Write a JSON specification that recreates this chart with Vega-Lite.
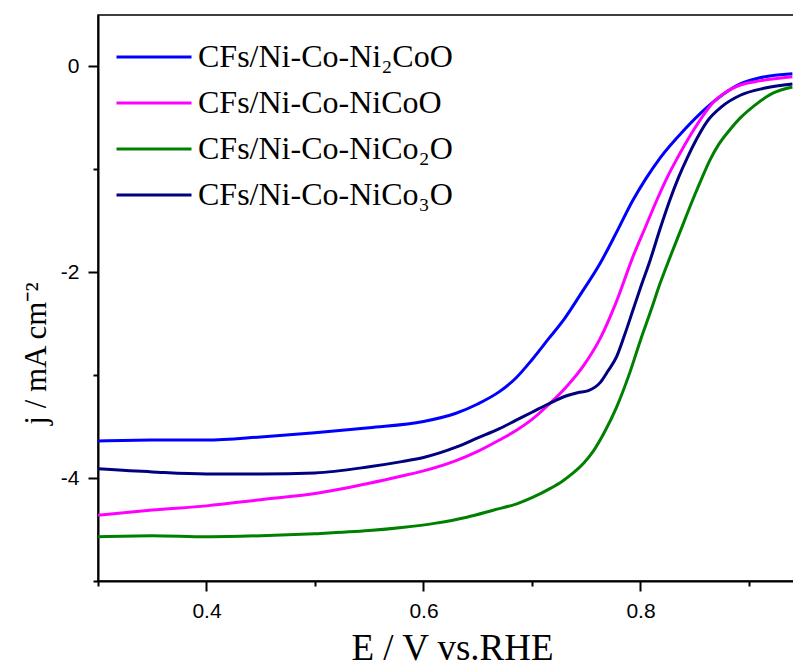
{
  "$schema": "https://vega.github.io/schema/vega-lite/v6.json",
  "autosize": "none",
  "padding": {"left": 98, "top": 15, "right": 0, "bottom": 85},
  "width": 696,
  "height": 566,
  "background": "white",
  "config": {
    "view": {"stroke": "black", "strokeWidth": 1.5},
    "axis": {
      "domainColor": "black", "domainWidth": 2, "tickColor": "black", "tickWidth": 2,
      "labelColor": "black", "labelFont": "Liberation Sans", "labelFontSize": 21,
      "titleColor": "black", "titleFont": "Liberation Serif", "titleFontWeight": "normal",
      "grid": false, "labelFlush": false, "labelOverlap": false
    }
  },
  "data": {"values": [
    {"s":"CFs/Ni-Co-Ni₂CoO","x":0.30,"y":-3.64},{"s":"CFs/Ni-Co-Ni₂CoO","x":0.35,"y":-3.63},{"s":"CFs/Ni-Co-Ni₂CoO","x":0.40,"y":-3.63},{"s":"CFs/Ni-Co-Ni₂CoO","x":0.45,"y":-3.60},{"s":"CFs/Ni-Co-Ni₂CoO","x":0.50,"y":-3.56},{"s":"CFs/Ni-Co-Ni₂CoO","x":0.55,"y":-3.51},{"s":"CFs/Ni-Co-Ni₂CoO","x":0.60,"y":-3.45},{"s":"CFs/Ni-Co-Ni₂CoO","x":0.63,"y":-3.37},{"s":"CFs/Ni-Co-Ni₂CoO","x":0.65,"y":-3.28},{"s":"CFs/Ni-Co-Ni₂CoO","x":0.67,"y":-3.16},{"s":"CFs/Ni-Co-Ni₂CoO","x":0.685,"y":-3.03},{"s":"CFs/Ni-Co-Ni₂CoO","x":0.70,"y":-2.85},{"s":"CFs/Ni-Co-Ni₂CoO","x":0.715,"y":-2.65},{"s":"CFs/Ni-Co-Ni₂CoO","x":0.73,"y":-2.45},{"s":"CFs/Ni-Co-Ni₂CoO","x":0.745,"y":-2.21},{"s":"CFs/Ni-Co-Ni₂CoO","x":0.763,"y":-1.91},{"s":"CFs/Ni-Co-Ni₂CoO","x":0.778,"y":-1.61},{"s":"CFs/Ni-Co-Ni₂CoO","x":0.793,"y":-1.30},{"s":"CFs/Ni-Co-Ni₂CoO","x":0.805,"y":-1.09},{"s":"CFs/Ni-Co-Ni₂CoO","x":0.818,"y":-0.89},{"s":"CFs/Ni-Co-Ni₂CoO","x":0.84,"y":-0.62},{"s":"CFs/Ni-Co-Ni₂CoO","x":0.861,"y":-0.40},{"s":"CFs/Ni-Co-Ni₂CoO","x":0.875,"y":-0.28},{"s":"CFs/Ni-Co-Ni₂CoO","x":0.892,"y":-0.17},{"s":"CFs/Ni-Co-Ni₂CoO","x":0.91,"y":-0.11},{"s":"CFs/Ni-Co-Ni₂CoO","x":0.94,"y":-0.07},
    {"s":"CFs/Ni-Co-NiCoO","x":0.30,"y":-4.36},{"s":"CFs/Ni-Co-NiCoO","x":0.35,"y":-4.31},{"s":"CFs/Ni-Co-NiCoO","x":0.40,"y":-4.27},{"s":"CFs/Ni-Co-NiCoO","x":0.45,"y":-4.21},{"s":"CFs/Ni-Co-NiCoO","x":0.50,"y":-4.15},{"s":"CFs/Ni-Co-NiCoO","x":0.55,"y":-4.05},{"s":"CFs/Ni-Co-NiCoO","x":0.58,"y":-3.98},{"s":"CFs/Ni-Co-NiCoO","x":0.60,"y":-3.93},{"s":"CFs/Ni-Co-NiCoO","x":0.63,"y":-3.83},{"s":"CFs/Ni-Co-NiCoO","x":0.65,"y":-3.74},{"s":"CFs/Ni-Co-NiCoO","x":0.67,"y":-3.63},{"s":"CFs/Ni-Co-NiCoO","x":0.685,"y":-3.54},{"s":"CFs/Ni-Co-NiCoO","x":0.70,"y":-3.43},{"s":"CFs/Ni-Co-NiCoO","x":0.715,"y":-3.29},{"s":"CFs/Ni-Co-NiCoO","x":0.732,"y":-3.11},{"s":"CFs/Ni-Co-NiCoO","x":0.748,"y":-2.90},{"s":"CFs/Ni-Co-NiCoO","x":0.763,"y":-2.64},{"s":"CFs/Ni-Co-NiCoO","x":0.778,"y":-2.28},{"s":"CFs/Ni-Co-NiCoO","x":0.793,"y":-1.85},{"s":"CFs/Ni-Co-NiCoO","x":0.805,"y":-1.55},{"s":"CFs/Ni-Co-NiCoO","x":0.815,"y":-1.30},{"s":"CFs/Ni-Co-NiCoO","x":0.825,"y":-1.07},{"s":"CFs/Ni-Co-NiCoO","x":0.834,"y":-0.89},{"s":"CFs/Ni-Co-NiCoO","x":0.85,"y":-0.60},{"s":"CFs/Ni-Co-NiCoO","x":0.867,"y":-0.35},{"s":"CFs/Ni-Co-NiCoO","x":0.88,"y":-0.24},{"s":"CFs/Ni-Co-NiCoO","x":0.892,"y":-0.18},{"s":"CFs/Ni-Co-NiCoO","x":0.91,"y":-0.14},{"s":"CFs/Ni-Co-NiCoO","x":0.94,"y":-0.10},
    {"s":"CFs/Ni-Co-NiCo₂O","x":0.30,"y":-4.57},{"s":"CFs/Ni-Co-NiCo₂O","x":0.35,"y":-4.56},{"s":"CFs/Ni-Co-NiCo₂O","x":0.40,"y":-4.57},{"s":"CFs/Ni-Co-NiCo₂O","x":0.45,"y":-4.56},{"s":"CFs/Ni-Co-NiCo₂O","x":0.50,"y":-4.54},{"s":"CFs/Ni-Co-NiCo₂O","x":0.55,"y":-4.51},{"s":"CFs/Ni-Co-NiCo₂O","x":0.58,"y":-4.48},{"s":"CFs/Ni-Co-NiCo₂O","x":0.61,"y":-4.44},{"s":"CFs/Ni-Co-NiCo₂O","x":0.64,"y":-4.38},{"s":"CFs/Ni-Co-NiCo₂O","x":0.665,"y":-4.31},{"s":"CFs/Ni-Co-NiCo₂O","x":0.686,"y":-4.25},{"s":"CFs/Ni-Co-NiCo₂O","x":0.70,"y":-4.19},{"s":"CFs/Ni-Co-NiCo₂O","x":0.717,"y":-4.10},{"s":"CFs/Ni-Co-NiCo₂O","x":0.728,"y":-4.03},{"s":"CFs/Ni-Co-NiCo₂O","x":0.738,"y":-3.95},{"s":"CFs/Ni-Co-NiCo₂O","x":0.748,"y":-3.85},{"s":"CFs/Ni-Co-NiCo₂O","x":0.757,"y":-3.73},{"s":"CFs/Ni-Co-NiCo₂O","x":0.767,"y":-3.55},{"s":"CFs/Ni-Co-NiCo₂O","x":0.778,"y":-3.31},{"s":"CFs/Ni-Co-NiCo₂O","x":0.79,"y":-2.98},{"s":"CFs/Ni-Co-NiCo₂O","x":0.80,"y":-2.66},{"s":"CFs/Ni-Co-NiCo₂O","x":0.81,"y":-2.36},{"s":"CFs/Ni-Co-NiCo₂O","x":0.818,"y":-2.11},{"s":"CFs/Ni-Co-NiCo₂O","x":0.827,"y":-1.86},{"s":"CFs/Ni-Co-NiCo₂O","x":0.836,"y":-1.62},{"s":"CFs/Ni-Co-NiCo₂O","x":0.848,"y":-1.30},{"s":"CFs/Ni-Co-NiCo₂O","x":0.856,"y":-1.10},{"s":"CFs/Ni-Co-NiCo₂O","x":0.864,"y":-0.91},{"s":"CFs/Ni-Co-NiCo₂O","x":0.872,"y":-0.76},{"s":"CFs/Ni-Co-NiCo₂O","x":0.882,"y":-0.62},{"s":"CFs/Ni-Co-NiCo₂O","x":0.892,"y":-0.50},{"s":"CFs/Ni-Co-NiCo₂O","x":0.905,"y":-0.38},{"s":"CFs/Ni-Co-NiCo₂O","x":0.922,"y":-0.26},{"s":"CFs/Ni-Co-NiCo₂O","x":0.94,"y":-0.20},
    {"s":"CFs/Ni-Co-NiCo₃O","x":0.30,"y":-3.91},{"s":"CFs/Ni-Co-NiCo₃O","x":0.35,"y":-3.94},{"s":"CFs/Ni-Co-NiCo₃O","x":0.40,"y":-3.96},{"s":"CFs/Ni-Co-NiCo₃O","x":0.45,"y":-3.96},{"s":"CFs/Ni-Co-NiCo₃O","x":0.50,"y":-3.95},{"s":"CFs/Ni-Co-NiCo₃O","x":0.55,"y":-3.89},{"s":"CFs/Ni-Co-NiCo₃O","x":0.58,"y":-3.84},{"s":"CFs/Ni-Co-NiCo₃O","x":0.60,"y":-3.80},{"s":"CFs/Ni-Co-NiCo₃O","x":0.63,"y":-3.70},{"s":"CFs/Ni-Co-NiCo₃O","x":0.65,"y":-3.61},{"s":"CFs/Ni-Co-NiCo₃O","x":0.67,"y":-3.52},{"s":"CFs/Ni-Co-NiCo₃O","x":0.685,"y":-3.44},{"s":"CFs/Ni-Co-NiCo₃O","x":0.70,"y":-3.36},{"s":"CFs/Ni-Co-NiCo₃O","x":0.715,"y":-3.28},{"s":"CFs/Ni-Co-NiCo₃O","x":0.732,"y":-3.20},{"s":"CFs/Ni-Co-NiCo₃O","x":0.742,"y":-3.17},{"s":"CFs/Ni-Co-NiCo₃O","x":0.752,"y":-3.15},{"s":"CFs/Ni-Co-NiCo₃O","x":0.763,"y":-3.07},{"s":"CFs/Ni-Co-NiCo₃O","x":0.770,"y":-2.96},{"s":"CFs/Ni-Co-NiCo₃O","x":0.778,"y":-2.82},{"s":"CFs/Ni-Co-NiCo₃O","x":0.785,"y":-2.62},{"s":"CFs/Ni-Co-NiCo₃O","x":0.793,"y":-2.37},{"s":"CFs/Ni-Co-NiCo₃O","x":0.80,"y":-2.15},{"s":"CFs/Ni-Co-NiCo₃O","x":0.809,"y":-1.88},{"s":"CFs/Ni-Co-NiCo₃O","x":0.818,"y":-1.58},{"s":"CFs/Ni-Co-NiCo₃O","x":0.827,"y":-1.30},{"s":"CFs/Ni-Co-NiCo₃O","x":0.835,"y":-1.08},{"s":"CFs/Ni-Co-NiCo₃O","x":0.843,"y":-0.89},{"s":"CFs/Ni-Co-NiCo₃O","x":0.852,"y":-0.70},{"s":"CFs/Ni-Co-NiCo₃O","x":0.861,"y":-0.54},{"s":"CFs/Ni-Co-NiCo₃O","x":0.875,"y":-0.39},{"s":"CFs/Ni-Co-NiCo₃O","x":0.892,"y":-0.28},{"s":"CFs/Ni-Co-NiCo₃O","x":0.915,"y":-0.21},{"s":"CFs/Ni-Co-NiCo₃O","x":0.94,"y":-0.17}
  ]},
  "mark": {"type": "line", "strokeWidth": 3, "interpolate": "monotone", "clip": true},
  "encoding": {
    "x": {
      "field": "x", "type": "quantitative",
      "scale": {"domain": [0.3, 0.9415], "nice": false, "zero": false},
      "axis": {
        "values": [0.3, 0.4, 0.5, 0.6, 0.7, 0.8, 0.9],
        "labelExpr": "round(datum.value*10) % 2 == 0 ? format(datum.value, '.1f') : ''",
        "tickSize": {"condition": {"test": "round(datum.value*10) % 2 == 0", "value": 10}, "value": 5},
        "labelPadding": 9,
        "title": "E / V vs.RHE", "titleFontSize": 37,
        "titleX": 354, "titleY": 78, "titleBaseline": "alphabetic", "titleAnchor": "middle"
      }
    },
    "y": {
      "field": "y", "type": "quantitative",
      "scale": {"domain": [-5, 0.5], "nice": false, "zero": false},
      "axis": {
        "values": [-5, -4, -3, -2, -1, 0],
        "labelExpr": "datum.value % 2 == 0 ? '' + datum.value : ''",
        "tickSize": {"condition": {"test": "datum.value % 2 == 0", "value": 10}, "value": 5},
        "labelPadding": 9,
        "title": "j / mA cm⁻²", "titleFontSize": 31,
        "titleX": -53, "titleY": 338, "titleBaseline": "alphabetic", "titleAngle": -90, "titleAnchor": "middle"
      }
    },
    "color": {
      "field": "s", "type": "nominal",
      "scale": {
        "domain": ["CFs/Ni-Co-Ni₂CoO", "CFs/Ni-Co-NiCoO", "CFs/Ni-Co-NiCo₂O", "CFs/Ni-Co-NiCo₃O"],
        "range": ["#0000FF", "#FF00FF", "#008000", "#000080"]
      },
      "legend": {
        "title": null, "orient": "none", "legendX": 17, "legendY": 19, "padding": 0,
        "symbolType": "stroke", "symbolSize": 5625, "symbolStrokeWidth": 3,
        "labelFont": "Liberation Serif", "labelFontSize": 32, "labelColor": "black",
        "labelOffset": 5, "labelLimit": 0, "rowPadding": 0, "clipHeight": 46
      }
    }
  }
}
